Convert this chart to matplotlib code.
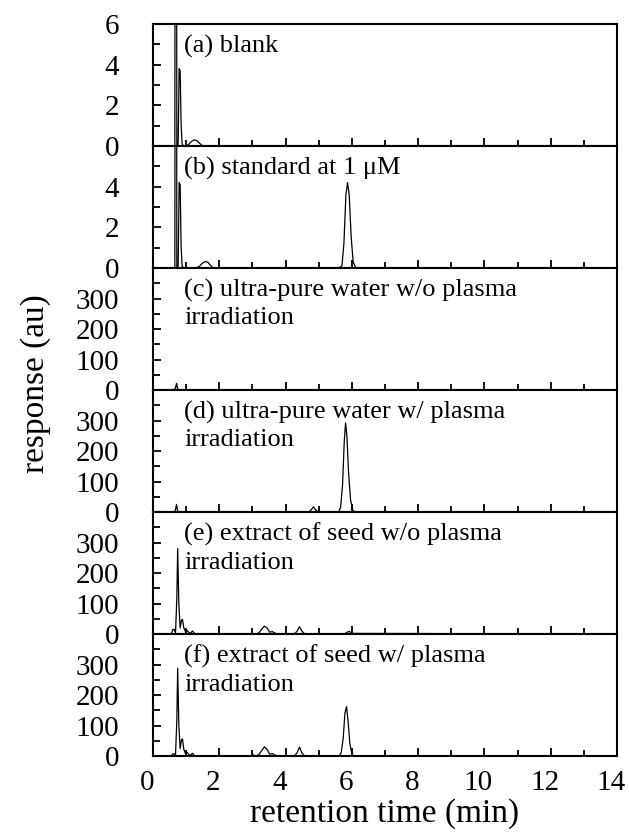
import numpy as np
import matplotlib
matplotlib.use("Agg")
import matplotlib.pyplot as plt
import matplotlib.transforms as mtransforms
from matplotlib.ticker import MultipleLocator

plt.rcParams['font.family'] = ['Liberation Serif', 'DejaVu Serif']

# chromatogram traces: retention time (min) / response (au)
# (a) blank
t_a = [0.0, 0.66, 0.68, 0.70, 0.72, 0.76, 0.79, 0.82, 0.85, 0.88, 0.92,
       1.00, 1.08, 1.16, 1.24, 1.32, 1.40, 1.48, 1.56, 14.0]
y_a = [0, 0, 30, 30, 0, 0.1, 3.8, 3.7, 1.0, 0.1, 0,
       0, 0.08, 0.22, 0.30, 0.27, 0.14, 0.03, 0, 0]

# (b) standard at 1 uM
t_b = [0.0, 0.66, 0.68, 0.70, 0.72, 0.76, 0.79, 0.82, 0.85, 0.88, 0.92,
       1.30, 1.40, 1.50, 1.58, 1.66, 1.74, 1.82,
       5.60, 5.70, 5.76, 5.82, 5.87, 5.92, 5.98, 6.04, 6.12, 14.0]
y_b = [0, 0, 30, 30, 0, 0.1, 4.2, 4.1, 1.0, 0.1, 0,
       0, 0.08, 0.25, 0.32, 0.28, 0.12, 0,
       0, 0.1, 1.2, 3.6, 4.2, 3.6, 1.5, 0.3, 0, 0]

# (c) ultra-pure water w/o plasma irradiation
t_c = [0.0, 0.64, 0.68, 0.71, 0.74, 0.78, 14.0]
y_c = [0, 0, 8, 22, 5, 0, 0]

# (d) ultra-pure water w/ plasma irradiation
t_d = [0.0, 0.64, 0.68, 0.71, 0.74, 0.78,
       4.70, 4.78, 4.84, 4.90, 4.98,
       5.60, 5.66, 5.72, 5.77, 5.81, 5.85, 5.90, 5.96, 6.03, 6.10, 14.0]
y_d = [0, 0, 8, 25, 5, 0,
       0, 8, 17, 8, 0,
       0, 15, 90, 230, 292, 250, 130, 40, 5, 0, 0]

# (e) extract of seed w/o plasma irradiation
t_e = [0.0, 0.55, 0.60, 0.64, 0.68, 0.72, 0.745, 0.78, 0.82, 0.86, 0.89,
       0.93, 0.98, 1.03, 1.09, 1.14, 1.19, 1.24, 1.30, 1.50,
       3.10, 3.20, 3.28, 3.36, 3.44, 3.52, 3.60, 3.68, 3.78,
       4.25, 4.34, 4.42, 4.50, 4.58,
       5.78, 5.86, 5.92, 6.00, 14.0]
y_e = [0, 0, 15, 15, 2, 120, 280, 100, 20, 45, 48,
       20, 8, 12, 4, 3, 10, 3, 0, 0,
       0, 4, 16, 26, 20, 6, 8, 3, 0,
       0, 8, 24, 9, 0,
       0, 6, 9, 2, 0]

# (f) extract of seed w/ plasma irradiation
t_f = [0.0, 0.55, 0.60, 0.64, 0.68, 0.72, 0.745, 0.78, 0.82, 0.86, 0.89,
       0.93, 0.98, 1.03, 1.09, 1.14, 1.19, 1.24, 1.30, 1.50,
       2.95, 3.02, 3.10, 3.20, 3.28, 3.36, 3.44, 3.52, 3.60, 3.68, 3.78,
       4.25, 4.34, 4.42, 4.50, 4.58,
       5.62, 5.68, 5.74, 5.79, 5.84, 5.89, 5.94, 6.00, 6.06, 14.0]
y_f = [0, 0, 7, 7, 2, 120, 288, 100, 25, 52, 56,
       22, 8, 12, 4, 3, 9, 3, 0, 0,
       0, 4, 0, 5, 18, 30, 22, 6, 8, 3, 0,
       0, 9, 29, 9, 0,
       0, 12, 60, 140, 162, 110, 40, 8, 0, 0]

traces = [(t_a, y_a), (t_b, y_b), (t_c, y_c), (t_d, y_d), (t_e, y_e), (t_f, y_f)]
labels = ['(a) blank',
          '(b) standard at 1 μM',
          '(c) ultra-pure water w/o plasma\nirradiation',
          '(d) ultra-pure water w/ plasma\nirradiation',
          '(e) extract of seed w/o plasma\nirradiation',
          '(f) extract of seed w/ plasma\nirradiation']
y_max = [6, 6, 400, 400, 400, 400]
y_major = [[0, 2, 4, 6], [0, 2, 4], [0, 100, 200, 300], [0, 100, 200, 300],
           [0, 100, 200, 300], [0, 100, 200, 300]]
y_minor = [[1, 3, 5], [1, 3, 5], [50, 150, 250, 350], [50, 150, 250, 350],
           [50, 150, 250, 350], [50, 150, 250, 350]]

fig, axes = plt.subplots(6, 1, figsize=(6.29, 8.39), dpi=100, sharex=True)
fig.subplots_adjust(left=0.2432, right=0.981, bottom=0.0989, top=0.9714, hspace=0)

for i, ax in enumerate(axes):
    t, y = traces[i]
    ax.plot(t, y, color='black', lw=0.9)
    ax.set_xlim(0, 14)
    ax.set_ylim(0, y_max[i])
    ax.xaxis.set_major_locator(MultipleLocator(2))
    ax.xaxis.set_minor_locator(MultipleLocator(1))
    ax.set_yticks(y_major[i])
    ax.set_yticks(y_minor[i], minor=True)
    ax.tick_params(which='both', direction='in', top=False, right=False, width=1.3,
                   labelsize=21)
    ax.tick_params(axis='y', which='major', length=6, pad=24.5)
    ax.tick_params(axis='y', which='minor', length=5)
    ax.tick_params(axis='x', which='major', length=6, pad=10)
    ax.tick_params(axis='x', which='minor', length=4)
    for s in ax.spines.values():
        s.set_linewidth(1.5)
    ax.text(0.067, 0.91, labels[i], transform=ax.transAxes, ha='left', va='top',
            fontsize=19, linespacing=1.3)

# x tick labels sit slightly left of their ticks in the original
shift = mtransforms.ScaledTranslation(-6 / 100, 0, fig.dpi_scale_trans)
for lab in axes[-1].get_xticklabels():
    lab.set_transform(lab.get_transform() + shift)

axes[-1].set_xlabel('retention time (min)', fontsize=24, labelpad=2)
fig.text(0.056, 0.543, 'response (au)', rotation=90, ha='center', va='center',
         fontsize=24)

fig.savefig('out.png', dpi=100)
